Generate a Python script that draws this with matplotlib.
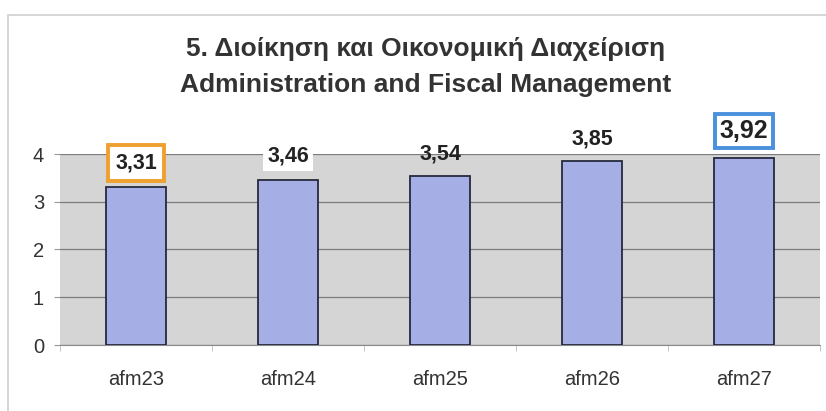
import matplotlib
matplotlib.use("Agg")
import matplotlib.pyplot as plt
from matplotlib.patches import Rectangle

categories = ["afm23", "afm24", "afm25", "afm26", "afm27"]
values = [3.31, 3.46, 3.54, 3.85, 3.92]
value_labels = ["3,31", "3,46", "3,54", "3,85", "3,92"]
yticks = [0, 1, 2, 3, 4]
title_lines = ["5. Διοίκηση και Οικονομική Διαχείριση", "Administration and Fiscal Management"]

plt.rcParams['font.family'] = ['Liberation Sans', 'DejaVu Sans']

W, H = 826, 411
fig = plt.figure(figsize=(W / 100, H / 100), dpi=100)
fig.patch.set_facecolor('white')
# outer chart border
fig.add_artist(Rectangle((8 / W, -0.01), 1.0, 1 - 15 / H + 0.01,
                         transform=fig.transFigure, fill=False,
                         edgecolor='#cfcfcf', linewidth=1.2))

ax = fig.add_axes([60 / W, 1 - 345 / H, 760 / W, (345 - 154) / H])
ax.set_facecolor('#d5d5d5')
x = list(range(len(categories)))
ax.bar(x, values, width=0.4, color='#a5afe6', edgecolor='#262a3c', linewidth=1.3, zorder=3)
ax.set_xlim(-0.5, len(categories) - 0.5)
ax.set_ylim(0, 4)
ax.set_yticks(yticks)
ax.set_yticklabels([str(t) for t in yticks], fontsize=14.5, color='#333333')
ax.set_xticks(x)
ax.set_xticklabels(categories, fontsize=14.5, color='#333333')
ax.set_xticks([i - 0.5 for i in range(len(categories) + 1)], minor=True)
ax.tick_params(axis='y', length=4.5, color='#999999', pad=7)
ax.tick_params(axis='x', which='major', length=0, pad=18)
ax.tick_params(axis='x', which='minor', length=4, color='#bbbbbb')
ax.yaxis.grid(True, color='#7c7c7c', linewidth=0.9, zorder=1)
for s in ['top', 'right', 'left']:
    ax.spines[s].set_visible(False)
ax.spines['bottom'].set_color('#8a8a8a')

# data labels
label_styles = [
    dict(box=dict(boxstyle='square,pad=0.35', facecolor='white', edgecolor='#f0a030', linewidth=2.8), off=13.5, size=15.5),
    dict(box=dict(boxstyle='square,pad=0.2', facecolor='white', edgecolor='white', linewidth=0), off=13.0, size=15.5),
    dict(box=None, off=12.2, size=15.5),
    dict(box=None, off=12.2, size=15.5),
    dict(box=dict(boxstyle='square,pad=0.2', facecolor='white', edgecolor='#4a90dc', linewidth=2.8), off=14.4, size=18),
]
for xi, v, lab, st in zip(x, values, value_labels, label_styles):
    ax.annotate(lab, (xi, v), xytext=(0, st['off']), textcoords='offset points',
                ha='center', va='baseline', fontsize=st['size'], fontweight='bold',
                color='#222222', bbox=st['box'], zorder=5, annotation_clip=False)

fig.text(425.5 / W, 1 - 56 / H, title_lines[0], ha='center', va='baseline', fontsize=19,
         fontweight='bold', color='#333333')
fig.text(425.5 / W, 1 - 92 / H, title_lines[1], ha='center', va='baseline', fontsize=19,
         fontweight='bold', color='#333333')

fig.savefig("out.png", dpi=100)
